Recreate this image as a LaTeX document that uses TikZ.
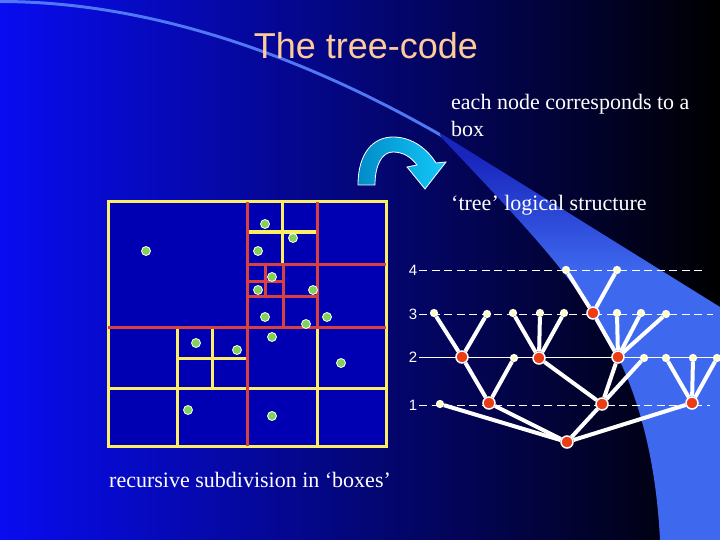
\documentclass[tikz,border=0pt]{standalone}
\usepackage{fontspec}
\setmainfont{Liberation Serif}
\newfontfamily\headfont{Liberation Sans}
\usepackage{tikz}
\usepackage{xcolor}
\definecolor{slideblue}{RGB}{8,12,240}
\definecolor{midblue}{RGB}{0,0,165}
\definecolor{bandblue}{RGB}{62,104,238}
\definecolor{banddark}{RGB}{24,38,190}
\definecolor{arcblue}{RGB}{80,120,245}
\definecolor{boxfill}{RGB}{0,0,178}
\definecolor{titlepeach}{RGB}{255,204,153}
\definecolor{cellyellow}{RGB}{252,238,100}
\definecolor{cellred}{RGB}{215,65,65}
\definecolor{dotgreen}{RGB}{130,210,90}
\definecolor{treered}{RGB}{235,60,20}
\definecolor{leafyellow}{RGB}{255,255,190}
\definecolor{arrowdark}{RGB}{0,140,200}
\definecolor{arrowlight}{RGB}{20,200,250}
\pgfdeclareverticalshading{bandfade}{100bp}{color(0bp)=(bandblue); color(58bp)=(bandblue);
  color(72bp)=(banddark); color(100bp)=(banddark)}

\begin{document}
\begin{tikzpicture}[x=1pt, y=-1pt,
    every node/.style={text=white},
    ycell/.style={cellyellow, line width=3pt},
    rcell/.style={cellred, line width=3pt},
    body/.style={font=\fontsize{22}{27}\selectfont, align=left, inner sep=0pt},
    inner/.style={circle, draw=white, line width=1.5pt, fill=treered, minimum size=12pt, inner sep=0pt},
    leaf/.style={circle, draw=white, line width=1.2pt, fill=leafyellow, minimum size=7pt, inner sep=0pt},
    level/.style={font=\headfont\fontsize{15}{15}\selectfont, inner sep=2pt},
    levelline/.style={white, line width=0.9pt, dash pattern=on 8pt off 4.5pt},
    branch/.style={white, line width=4pt}]
  \useasboundingbox (0,0) rectangle (720,540);
  % slide background
  \shade[left color=slideblue, middle color=midblue, right color=black] (0,0) rectangle (720,540);
  \fill[arcblue] (0,0) .. controls (170,0) and (330,70) .. (440,133) -- (441,137)
    .. controls (330,73) and (170,3) .. (0,3) -- cycle;
  \shade[shading=bandfade]
    (440,133) -- (720,307) -- (720,540) -- (660,540)
    .. controls (655,440) and (630,370) .. (597,320)
    .. controls (560,260) and (500,200) .. (441,137) -- cycle;

  \node[font=\headfont\fontsize{36}{36}\selectfont, text=titlepeach] (title) at (366,46) {The tree-code};
  \node[body, anchor=north west] (note) at (451,94) {each node corresponds to a\\box};
  \node[body, anchor=base west] (treelabel) at (451,211) {‘tree’ logical structure};
  \node[body, anchor=base west] (caption) at (109,487) {recursive subdivision in ‘boxes’};

  % curved arrow
  \shade[left color=arrowdark, right color=arrowlight, draw=white, line width=0.8pt]
    (358,185) .. controls (358,152) and (374,137) .. (393,137)
    .. controls (413,137) and (428,150) .. (436,163) -- (446,162) -- (425,189) -- (407,167) -- (417,165)
    .. controls (411,157) and (403,152) .. (393,152)
    .. controls (382,152) and (375,165) .. (375,185) -- cycle;

  % boxes
  \fill[boxfill] (108,202) rectangle (386,446);
  \draw[ycell] (108,202) rectangle (386,446);
  \draw[ycell] (317,327) -- (317,446);
  \draw[ycell] (108,388) -- (386,388);
  \draw[ycell] (177,327) -- (177,446);
  \draw[ycell] (212,327) -- (212,388);
  \draw[ycell] (177,358) -- (247,358);
  \draw[ycell] (282,202) -- (282,264);
  \draw[ycell] (247,232) -- (317,232);
  \draw[rcell] (247,202) -- (247,446);
  \draw[rcell] (108,327) -- (386,327);
  \draw[rcell] (317,202) -- (317,327);
  \draw[rcell] (247,264) -- (386,264);
  \draw[rcell] (283,264) -- (283,327);
  \draw[rcell] (247,296) -- (317,296);
  \draw[rcell] (265,264) -- (265,296);
  \draw[rcell] (247,281) -- (283,281);
  \foreach \x/\y in {146/251, 265/224, 293/238, 258/251, 272/277, 258/290, 313/290, 265/317,
      306/324, 327/317, 272/337, 196/343, 237/350, 341/363, 188/410, 272/416}
    \fill[dotgreen, draw=white, line width=0.8pt] (\x,\y) circle (4.5pt);

  % levels
  \node[level] (l4) at (413,270) {4};
  \node[level] (l3) at (413,314) {3};
  \node[level] (l2) at (413,357) {2};
  \node[level] (l1) at (413,405) {1};
  \coordinate (e4) at (705,270);
  \coordinate (e3) at (713,314);
  \coordinate (e2) at (720,357);
  \coordinate (e1) at (710,405);
  \draw[levelline] (l4) -- (e4);
  \draw[levelline] (l3) -- (e3);
  \draw[white, line width=0.9pt] (l2) -- (e2);
  \draw[levelline] (l1) -- (e1);

  % tree
  \node[inner] (r) at (567,442) {};
  \node[leaf] (a1) at (440,404) {};
  \node[inner] (a2) at (489,403) {};
  \node[inner] (a3) at (602,404) {};
  \node[inner] (a4) at (692,403) {};
  \node[inner] (b1) at (462,357) {};
  \node[leaf] (b2) at (514,358) {};
  \node[inner] (b3) at (539,358) {};
  \node[inner] (b4) at (618,357) {};
  \node[leaf] (b5) at (644,358) {};
  \node[leaf] (b6) at (666,358) {};
  \node[leaf] (b7) at (693,358) {};
  \node[leaf] (b8) at (717,358) {};
  \node[leaf] (c1) at (434,313) {};
  \node[leaf] (c2) at (487,314) {};
  \node[leaf] (c3) at (513,313) {};
  \node[leaf] (c4) at (540,313) {};
  \node[leaf] (c5) at (564,313) {};
  \node[inner] (c6) at (593,313) {};
  \node[leaf] (c7) at (617,313) {};
  \node[leaf] (c8) at (641,313) {};
  \node[leaf] (c9) at (666,314) {};
  \node[leaf] (d1) at (566,270) {};
  \node[leaf] (d2) at (617,270) {};
  \foreach \u/\v in {r/a1, r/a2, r/a3, r/a4, a2/b1, a2/b2, a3/b3, a3/b4, a3/b5, a4/b6, a4/b7, a4/b8,
      b1/c1, b1/c2, b3/c3, b3/c4, b3/c5, b4/c6, b4/c7, b4/c8, b4/c9, c6/d1, c6/d2}
    \draw[branch] (\u) -- (\v);
\end{tikzpicture}
\end{document}
